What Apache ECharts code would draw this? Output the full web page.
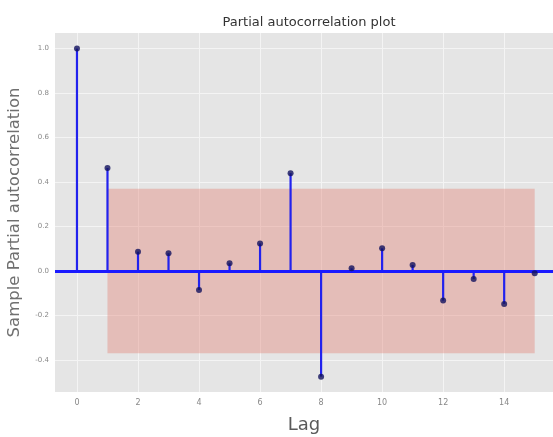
<!DOCTYPE html>
<html>
<head>
<meta charset="utf-8">
<script src="https://cdn.jsdelivr.net/npm/echarts@6/dist/echarts.min.js"></script>
<style>
  html, body { margin: 0; padding: 0; background: #fff; }
  #chart { width: 553px; height: 437px; }
</style>
</head>
<body>
<div id="chart"></div>
<script>
// Partial autocorrelation by lag
const lags = [0, 1, 2, 3, 4, 5, 6, 7, 8, 9, 10, 11, 12, 13, 14, 15];
const pacf = [1.0, 0.463, 0.087, 0.080, -0.085, 0.035, 0.124, 0.440, -0.475, 0.012, 0.102, 0.027, -0.133, -0.036, -0.148, -0.010];

// Confidence band (lag range and +/- limit)
const bandLags = [1, 15];
const bandLimit = 0.37;

// Tick labels
const xTicks = [0, 2, 4, 6, 8, 10, 12, 14];
const yTicks = [-0.4, -0.2, 0.0, 0.2, 0.4, 0.6, 0.8, 1.0];

const font = 'DejaVu Sans';
const chart = echarts.init(document.getElementById('chart'));

const gridLines = [
  ...xTicks.map(v => ({ xAxis: v })),
  ...yTicks.filter(v => v !== 0).map(v => ({ yAxis: v }))
];

const points = lags.map((l, i) => [l, pacf[i]]);

chart.setOption({
  animation: false,
  backgroundColor: '#ffffff',
  title: {
    text: 'Partial autocorrelation plot',
    left: 304,
    textAlign: 'center',
    top: 11,
    textStyle: { fontFamily: font, fontSize: 13, fontWeight: 'normal', color: '#333' }
  },
  grid: {
    left: 55, right: 0, top: 33, bottom: 45,
    outerBoundsMode: 'none', containLabel: false,
    backgroundColor: '#e5e5e5', show: true, borderWidth: 0
  },
  xAxis: {
    type: 'value',
    min: -0.72,
    max: 15.6,
    name: 'Lag',
    nameLocation: 'middle',
    nameGap: 24,
    nameTextStyle: { fontFamily: font, fontSize: 18, color: '#5a5a5a' },
    axisLine: { show: false },
    axisTick: { show: true, customValues: xTicks, length: 3, lineStyle: { color: '#999' } },
    axisLabel: { customValues: xTicks, fontFamily: font, fontSize: 8, color: '#888', margin: 7 },
    splitLine: { show: false }
  },
  yAxis: {
    type: 'value',
    min: -0.544,
    max: 1.07,
    name: 'Sample Partial autocorrelation',
    nameLocation: 'middle',
    nameGap: 32,
    nameTextStyle: { fontFamily: font, fontSize: 16.5, color: '#707070' },
    axisLine: { show: false },
    axisTick: { show: true, customValues: yTicks, length: 3, lineStyle: { color: '#999' } },
    axisLabel: { customValues: yTicks, fontFamily: font, fontSize: 7, color: '#888', margin: 6,
      formatter: v => v.toFixed(1) },
    splitLine: { show: false }
  },
  series: [
    {
      // grid lines
      type: 'line',
      data: [],
      silent: true,
      z: 1,
      markLine: {
        z: 1,
        silent: true,
        symbol: 'none',
        label: { show: false },
        lineStyle: { color: '#f4f4f4', width: 1, type: 'solid' },
        data: gridLines
      }
    },
    {
      // confidence band
      type: 'line',
      data: [],
      silent: true,
      z: 2,
      markArea: {
        z: 2,
        silent: true,
        itemStyle: { color: 'rgba(226,134,122,0.42)' },
        data: [[{ xAxis: bandLags[0], yAxis: bandLimit }, { xAxis: bandLags[1], yAxis: -bandLimit }]]
      }
    },
    {
      // stems from zero to each value
      type: 'custom',
      z: 3,
      silent: true,
      data: points,
      renderItem: (params, api) => {
        const top = api.coord([api.value(0), api.value(1)]);
        const base = api.coord([api.value(0), 0]);
        return {
          type: 'line',
          shape: { x1: base[0], y1: base[1], x2: top[0], y2: top[1] },
          style: { stroke: '#2222ee', lineWidth: 2.2 }
        };
      }
    },
    {
      // zero line
      type: 'line',
      data: [],
      silent: true,
      z: 4,
      markLine: {
        z: 4,
        silent: true,
        symbol: 'none',
        label: { show: false },
        lineStyle: { color: '#1a1aff', width: 3, type: 'solid' },
        data: [{ yAxis: 0 }]
      }
    },
    {
      // markers
      type: 'scatter',
      symbol: 'circle',
      symbolSize: 6,
      z: 6,
      itemStyle: { color: '#12125e' },
      data: points
    }
  ]
});
</script>
</body>
</html>
